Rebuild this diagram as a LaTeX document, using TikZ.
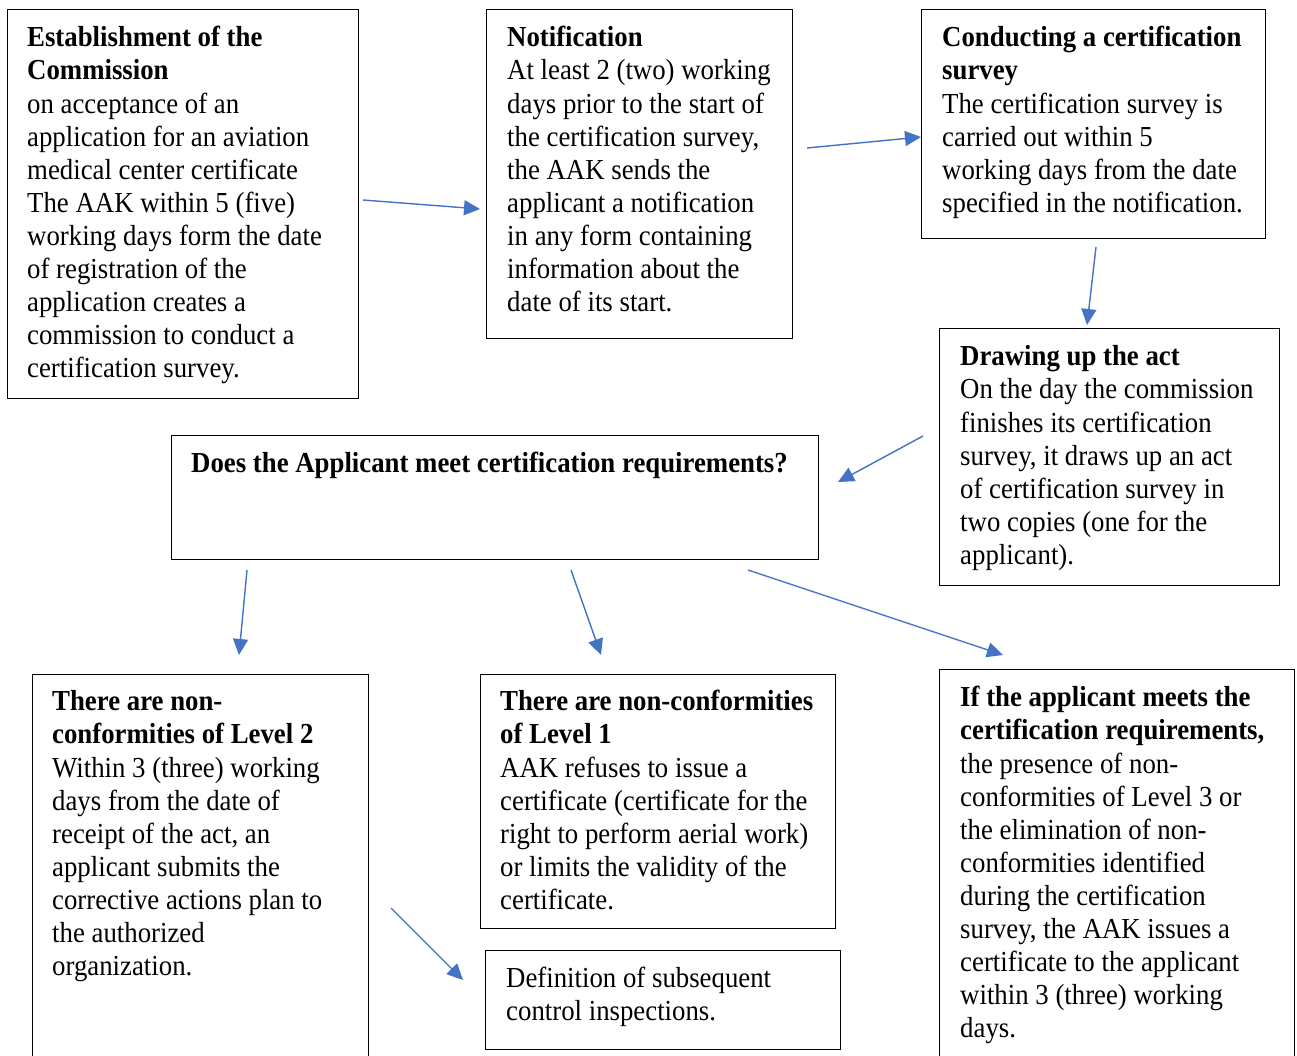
\documentclass[tikz,border=0pt]{standalone}
\usepackage{fontspec}
\setmainfont[FakeStretch=0.924]{Liberation Serif}
\usetikzlibrary{arrows.meta}
\definecolor{arrowblue}{HTML}{4472C4}
\tikzset{
  box/.style={draw=black, line width=1pt, fill=white, anchor=north west, inner sep=0pt, outer sep=0pt},
  txt/.style={anchor=north west, inner sep=0pt, align=left, font=\fontsize{29}{33.1}\selectfont},
  arr/.style={draw=arrowblue, line width=1.4pt, -{Triangle[length=16pt,width=15pt]}},
}
\begin{document}
\begin{tikzpicture}[x=1pt,y=-1pt]
\useasboundingbox (0,0) rectangle (1297,1056);
\clip (0,0) rectangle (1297,1056);
\fill[white] (0,0) rectangle (1297,1056);
% boxes
\node[box, minimum width=351, minimum height=388] (b1) at (7,10) {};
\node[box, minimum width=306, minimum height=328] (b2) at (486,10) {};
\node[box, minimum width=344, minimum height=229] (b3) at (921,10) {};
\node[box, minimum width=340, minimum height=257] (b4) at (939,328) {};
\node[box, minimum width=647, minimum height=124] (b5) at (171,435) {};
\node[box, minimum width=336, minimum height=420] (b6) at (32,674) {};
\node[box, minimum width=355, minimum height=254] (b7) at (480,674) {};
\node[box, minimum width=355, minimum height=99] (b8) at (485,950) {};
\node[box, minimum width=355, minimum height=420] (b9) at (939,669) {};
% texts
\node[txt] (t1) at (27,23.5) {\strut\textbf{Establishment of the}\\\textbf{Commission}\\on acceptance of an\\application for an aviation\\medical center certificate\\The AAK within 5 (five)\\working days form the date\\of registration of the\\application creates a\\commission to conduct a\\certification survey.};
\node[txt] (t2) at (507,23.5) {\strut\textbf{Notification}\\At least 2 (two) working\\days prior to the start of\\the certification survey,\\the AAK sends the\\applicant a notification\\in any form containing\\information about the\\date of its start.};
\node[txt] (t3) at (942,23.5) {\strut\textbf{Conducting a certification}\\\textbf{survey}\\The certification survey is\\carried out within 5\\working days from the date\\specified in the notification.};
\node[txt] (t4) at (960,342.5) {\strut\textbf{Drawing up the act}\\On the day the commission\\finishes its certification\\survey, it draws up an act\\of certification survey in\\two copies (one for the\\applicant).};
\node[txt] (t5) at (191,449.5) {\strut\textbf{Does the Applicant meet certification requirements?}};
\node[txt] (t6) at (52,687.5) {\strut\textbf{There are non-}\\\textbf{conformities of Level 2}\\Within 3 (three) working\\days from the date of\\receipt of the act, an\\applicant submits the\\corrective actions plan to\\the authorized\\organization.};
\node[txt] (t7) at (500,687.5) {\strut\textbf{There are non-conformities}\\\textbf{of Level 1}\\AAK refuses to issue a\\certificate (certificate for the\\right to perform aerial work)\\or limits the validity of the\\certificate.};
\node[txt] (t8) at (506,964.5) {\strut Definition of subsequent\\control inspections.};
\node[txt] (t9) at (960,683.5) {\strut\textbf{If the applicant meets the}\\\textbf{certification requirements,}\\the presence of non-\\conformities of Level 3 or\\the elimination of non-\\conformities identified\\during the certification\\survey, the AAK issues a\\certificate to the applicant\\within 3 (three) working\\days.};
% arrow end coordinates
\coordinate (a1s) at (363,200); \coordinate (a1e) at (480,209);
\coordinate (a2s) at (807,148); \coordinate (a2e) at (921,137);
\coordinate (a3s) at (1096,247); \coordinate (a3e) at (1087,325);
\coordinate (a4s) at (923,436); \coordinate (a4e) at (838,482);
\coordinate (a5s) at (247,570); \coordinate (a5e) at (239,655);
\coordinate (a6s) at (571,570); \coordinate (a6e) at (601,655);
\coordinate (a7s) at (748,570); \coordinate (a7e) at (1003,655);
\coordinate (a8s) at (391,908); \coordinate (a8e) at (463,980);
\draw[arr] (a1s) -- (a1e);
\draw[arr] (a2s) -- (a2e);
\draw[arr] (a3s) -- (a3e);
\draw[arr] (a4s) -- (a4e);
\draw[arr] (a5s) -- (a5e);
\draw[arr] (a6s) -- (a6e);
\draw[arr] (a7s) -- (a7e);
\draw[arr] (a8s) -- (a8e);
\end{tikzpicture}
\end{document}
